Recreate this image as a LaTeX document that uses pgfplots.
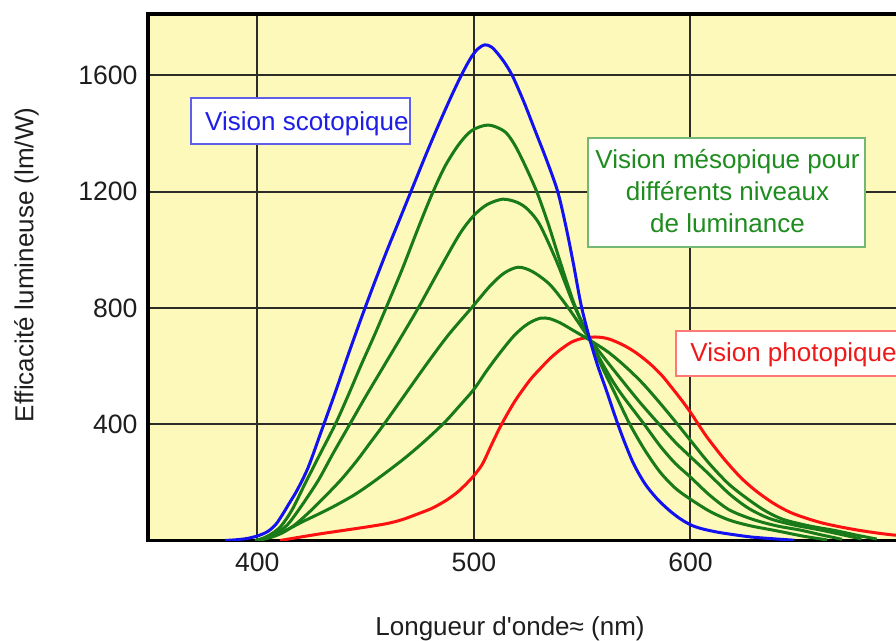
\documentclass[border=0pt]{standalone}
\usepackage{pgfplots}
\pgfplotsset{compat=1.18}
\usepackage{fontspec}
\setmainfont{Liberation Sans}
\definecolor{bgy}{RGB}{253,249,187}
\definecolor{gridc}{RGB}{45,45,40}
\definecolor{labc}{RGB}{30,30,30}
\definecolor{cblue}{RGB}{18,18,240}
\definecolor{cgreen}{RGB}{24,122,24}
\definecolor{cred}{RGB}{252,16,16}
\definecolor{tblue}{RGB}{30,30,230}
\definecolor{bblue}{RGB}{95,95,235}
\definecolor{tgreen}{RGB}{30,140,30}
\definecolor{bgreen}{RGB}{115,185,115}
\definecolor{tred}{RGB}{240,25,25}
\definecolor{bred}{RGB}{255,120,120}
\begin{document}
\begin{tikzpicture}
\path[use as bounding box] (-74pt,-50.25pt) rectangle (374pt,270.25pt);
\clip (-74pt,-50.25pt) rectangle (374pt,270.25pt);
\begin{axis}[
  at={(0pt,0pt)}, anchor=south west,
  scale only axis, width=379.5pt, height=263.25pt,
  xmin=349.5, xmax=700, ymin=0, ymax=1811,
  xtick={400,500,600}, ytick={400,800,1200,1600},
  grid=major, major grid style={line width=1pt, color=gridc},
  axis line style={line width=1.6pt, black},
  major tick length=0pt,
  axis background/.style={fill=bgy},
  /pgf/number format/assume math mode=true,
  /pgf/number format/1000 sep={},
  scaled y ticks=false,
  ticklabel style={font=\fontsize{13.3}{15}\selectfont, text=labc},
  xticklabel style={yshift=-2.9pt},
  yticklabel style={xshift=-1.7pt},
  xlabel={Longueur d\textquotesingle onde≈ (nm)},
  ylabel={Efficacité lumineuse (lm/W)},
  xlabel style={at={(axis description cs:0.477,-0.1681)}, anchor=center, font=\fontsize{13}{15}\selectfont, text=labc},
  ylabel style={at={(axis description cs:-0.1600,0.5233)}, anchor=center, font=\fontsize{13}{15}\selectfont, text=labc},
  every axis plot/.append style={line width=1.5pt, smooth, tension=0.5},
]
% photopic (red)
\addplot[cred] coordinates {
(410.5,0) (420,12) (430,24) (440,35) (450,46) (459.7,58) (467,72) (475,94) (481,112)
(487.4,139) (493,170) (498.2,208) (501.5,237) (504.3,268) (508.5,335) (512.8,400)
(519,480) (525.9,552) (530.5,590) (535,625) (539.7,655) (545,682) (550,695) (556,700)
(562,694) (569,672) (575,645) (581.3,608) (587,566) (592,520) (596,482) (599.8,443)
(603,407) (607.5,357) (615,285) (622.9,219) (630,172) (638.3,128) (646,97) (653.7,76)
(661,60) (669,47) (677,36) (684,28) (690,22) (695,18) (700,15)};
% mesopic (green)
\addplot[cgreen] coordinates {
(399,0) (403,9) (407,25) (411,50) (416,105) (422,195) (429,298) (436,400) (442,500)
(448,605) (454,705) (460,810) (467,935) (473.5,1060) (480,1180) (486.5,1285)
(493,1362) (499,1410) (506.6,1429) (514,1408) (518.5,1365) (523,1300) (529,1200)
(534.5,1085) (540,955) (546.5,810) (553.3,695) (559,600) (565.5,500) (572,400)
(579,310) (586,235) (593,180) (600,142) (609,100) (618,70) (628,50) (640,33)
(652,15) (663,2)};
\addplot[cgreen] coordinates {
(399,0) (404,9) (409,26) (414,55) (420,115) (428,205) (435,300) (442.7,400) (450,495)
(458,595) (466,695) (474.3,800) (484.3,935) (493.5,1055) (500,1118) (506,1155)
(513.3,1174) (520,1163) (525,1138) (530.5,1085) (538.2,960) (545.9,815) (553.3,695)
(560,600) (567,515) (578.6,400) (586,325) (593,265) (600,218) (609,155) (618,105)
(629,72) (640,50) (650.6,36) (660,20) (670,4)};
\addplot[cgreen] coordinates {
(400,0) (406,10) (412,28) (418,58) (425,105) (432,157) (439,212) (446,275) (452,335)
(458,395) (468,500) (478,605) (488,705) (498.9,800) (507.4,875) (514,920) (520.5,940)
(527,925) (535.1,880) (543.6,800) (553.3,695) (561,620) (569,545) (577,472) (585.5,400)
(593,338) (600,288) (608,232) (618,160) (627,110) (636.7,75) (648,53) (660,36) (670,20)
(679,5)};
\addplot[cgreen] coordinates {
(400,0) (406,12) (414,38) (421,65) (428,90) (436,120) (445,158) (454,204) (467,277)
(477,340) (486.3,405) (493,460) (500,520) (506,585) (512,645) (518,700) (523,735)
(527,754) (531,765) (535,763) (540,748) (546,722) (553.3,690) (562,648) (570,598)
(578,540) (586,472) (594,400) (601,335) (609,262) (618,192) (627.5,137) (635,100)
(643,72) (655,50) (667,34) (677,18) (686,5)};
% scotopic (blue)
\addplot[cblue] coordinates {
(385,0) (391,3) (396,8) (401,18) (405,32) (408.5,55) (411.5,88) (414.5,125) (418.5,175)
(423.5,252) (429.5,375) (436,510) (442,640) (448,765) (454,885) (460,1000) (466,1110)
(472,1220) (478,1330) (484,1435) (490,1535) (495,1612) (499,1665) (502,1692) (505,1705)
(508,1698) (511,1675) (514.5,1640) (518,1595) (523,1510) (528,1415) (533.5,1310)
(538.7,1200) (542.5,1080) (546,950) (549.5,810) (553.4,695) (557,605) (561,520)
(566,410) (570,330) (574,260) (579,195) (584.4,145) (590,105) (595.2,75) (600.6,52)
(606,39) (613,28) (620,20) (628,12) (638,6) (648,1)};
% annotation boxes
\draw[draw=bblue, fill=white, line width=1pt] (axis cs:369.3,1364) rectangle (axis cs:470.4,1521);
\node[anchor=base west, inner sep=0pt, text=tblue, font=\fontsize{13}{15}\selectfont] at (axis cs:375.75,1409.7) {Vision scotopique};
\draw[draw=bgreen, fill=white, line width=1pt] (axis cs:552.8,1010.7) rectangle (axis cs:680.6,1383.6);
\node[anchor=base, inner sep=0pt, text=tgreen, font=\fontsize{13}{15}\selectfont] at (axis cs:617.1,1280.4) {Vision mésopique pour};
\node[anchor=base, inner sep=0pt, text=tgreen, font=\fontsize{13}{15}\selectfont] at (axis cs:617.1,1167.9) {différents niveaux};
\node[anchor=base, inner sep=0pt, text=tgreen, font=\fontsize{13}{15}\selectfont] at (axis cs:617.1,1058.8) {de luminance};
\draw[draw=bred, fill=white, line width=1pt] (axis cs:593.3,565.9) rectangle (axis cs:702,721.7);
\node[anchor=base west, inner sep=0pt, text=tred, font=\fontsize{13}{15}\selectfont] at (axis cs:599.8,615.1) {Vision photopique};
\end{axis}
\end{tikzpicture}
\end{document}
